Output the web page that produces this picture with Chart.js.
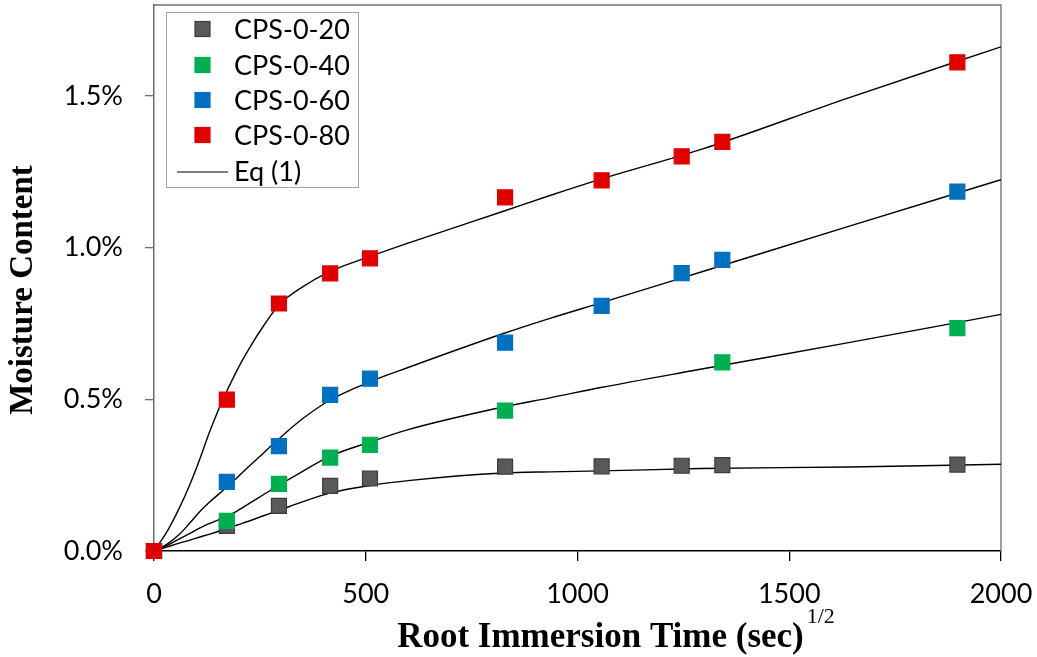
<!DOCTYPE html>
<html>
<head>
<meta charset="utf-8">
<script src="https://cdn.jsdelivr.net/npm/chart.js@4.4.0/dist/chart.umd.min.js"></script>
<style>body{margin:0;background:#fff}</style>
</head>
<body>
<canvas id="c" width="1037" height="657"></canvas>
<script>
// measured points (x = root time, y = moisture %)
const measuredX = [0, 172, 295, 416, 510, 829, 1057, 1246, 1342, 1897];
const cps20 = [0, 0.083, 0.149, 0.215, 0.239, 0.278, 0.279, 0.281, 0.283, 0.285];
const cps40 = [0, 0.099, 0.221, 0.308, 0.350, 0.463, null, null, 0.622, 0.735];
const cps60 = [0, 0.228, 0.346, 0.515, 0.568, 0.687, 0.808, 0.916, 0.960, 1.185];
const cps80 = [0, 0.499, 0.816, 0.915, 0.965, 1.166, 1.222, 1.301, 1.349, 1.611];

// Eq (1) curves
const curveX = [0, 30, 60, 85, 110, 130, 155, 195, 225, 260, 295, 350, 415, 510, 600, 825, 935, 1055, 1290, 1640, 2000];
const fit20 = [0, 0.013, 0.026, 0.036, 0.047, 0.055, 0.066, 0.085, 0.099, 0.117, 0.134, 0.162, 0.191, 0.216, 0.232, 0.257, 0.261, 0.264, 0.272, 0.277, 0.286];
const fit40 = [0, 0.018, 0.040, 0.058, 0.077, 0.090, 0.104, 0.131, 0.157, 0.187, 0.217, 0.262, 0.312, 0.359, 0.400, 0.475, 0.505, 0.539, 0.599, 0.687, 0.780];
const fit60 = [0, 0.022, 0.055, 0.093, 0.133, 0.160, 0.190, 0.240, 0.280, 0.325, 0.370, 0.435, 0.497, 0.558, 0.605, 0.717, 0.767, 0.818, 0.919, 1.070, 1.224];
const fit80 = [0, 0.062, 0.142, 0.220, 0.310, 0.388, 0.475, 0.593, 0.668, 0.745, 0.811, 0.870, 0.921, 0.971, 1.015, 1.120, 1.172, 1.226, 1.323, 1.494, 1.662];

const names = ['CPS-0-20', 'CPS-0-40', 'CPS-0-60', 'CPS-0-80'];
const fills = ['#595959', '#00b050', '#0070c0', '#e00000'];
const edges = ['#3c3c3c', '#00b050', '#0070c0', '#e00000'];
const xTicks = [0, 500, 1000, 1500, 2000];
const yTicks = [0, 0.5, 1.0, 1.5];

const pts = (xs, ys) => xs.map((x, i) => ({x: x, y: ys[i]})).filter(p => p.y !== null);

const measured = [cps20, cps40, cps60, cps80];
const fits = [fit20, fit40, fit60, fit80];
const datasets = [];
measured.forEach((ys, i) => {
  datasets.push({
    label: names[i], data: pts(measuredX, ys), showLine: false,
    pointStyle: 'rect', pointRadius: 10.6, pointHoverRadius: 10.6,
    backgroundColor: fills[i], borderColor: edges[i], borderWidth: 1.2,
    order: 3 - i, clip: false
  });
});
fits.forEach((ys, i) => {
  datasets.push({
    label: 'Eq (1)', data: pts(curveX, ys), showLine: true,
    pointRadius: 0, borderColor: '#000', borderWidth: 1.4,
    cubicInterpolationMode: 'monotone', order: 10
  });
});

const sans = 'Lato, "Open Sans", sans-serif';
const serif = '"Liberation Serif", "DejaVu Serif", serif';

const decor = {
  id: 'decor',
  beforeDatasetsDraw(chart) {
    const a = chart.chartArea, ctx = chart.ctx;
    ctx.save();
    ctx.strokeStyle = '#6e6e6e';
    ctx.lineWidth = 1.3;
    ctx.beginPath();
    ctx.moveTo(a.left, a.top); ctx.lineTo(a.right, a.top); ctx.lineTo(a.right, a.bottom);
    ctx.stroke();
    ctx.restore();
  },
  afterDraw(chart) {
    const ctx = chart.ctx;
    ctx.save();
    // legend box
    ctx.fillStyle = '#fff';
    ctx.fillRect(166.5, 12.5, 192, 175);
    ctx.strokeStyle = '#a6a6a6';
    ctx.lineWidth = 1;
    ctx.strokeRect(166.5, 12.5, 192, 175);
    const rows = [29, 65, 100, 135];
    ctx.font = '27px ' + sans;
    ctx.textBaseline = 'middle';
    rows.forEach((y, i) => {
      ctx.fillStyle = fills[i];
      ctx.fillRect(195, y - 7.5, 15, 15);
      ctx.strokeStyle = edges[i];
      ctx.lineWidth = 1.2;
      ctx.strokeRect(195, y - 7.5, 15, 15);
      ctx.fillStyle = '#000';
      ctx.fillText(names[i], 234, y + 1);
    });
    ctx.strokeStyle = '#000';
    ctx.lineWidth = 1.2;
    ctx.beginPath(); ctx.moveTo(177, 172); ctx.lineTo(228, 172); ctx.stroke();
    ctx.fillStyle = '#000';
    ctx.fillText('Eq (1)', 234, 172);

    // y title
    ctx.font = 'bold 33px ' + serif;
    ctx.textAlign = 'center';
    ctx.textBaseline = 'middle';
    ctx.translate(23, 290);
    ctx.rotate(-Math.PI / 2);
    ctx.fillText('Moisture Content', 0, 0);
    ctx.setTransform(1, 0, 0, 1, 0, 0);

    // x title with superscript
    const main = 'Root Immersion Time (sec)', sup = '1/2';
    ctx.textAlign = 'left';
    ctx.textBaseline = 'alphabetic';
    ctx.font = 'bold 35px ' + serif;
    const w1 = ctx.measureText(main).width;
    ctx.font = '22px ' + serif;
    const w2 = ctx.measureText(sup).width;
    const x0 = 616 - (w1 + 3 + w2) / 2;
    ctx.font = 'bold 35px ' + serif;
    ctx.fillText(main, x0, 647);
    ctx.font = '22px ' + serif;
    ctx.fillText(sup, x0 + w1 + 3, 623);
    ctx.restore();
  }
};

new Chart(document.getElementById('c'), {
  type: 'scatter',
  data: {datasets: datasets},
  options: {
    responsive: false,
    animation: false,
    events: [],
    layout: {autoPadding: false, padding: {left: 0, top: 5, right: 36, bottom: 0}},
    plugins: {legend: {display: false}, tooltip: {enabled: false}},
    scales: {
      x: {
        type: 'linear', min: 0, max: 2000,
        afterFit: s => { s.height = 106; s.paddingLeft = 0; s.paddingRight = 0; },
        afterBuildTicks: s => { s.ticks = xTicks.map(v => ({value: v})); },
        grid: {drawOnChartArea: false, drawTicks: true, tickLength: 10, color: '#000', lineWidth: 1.3},
        border: {color: '#000', width: 1.5},
        ticks: {font: {family: sans, size: 27}, color: '#000', padding: 17, maxRotation: 0,
          callback: v => String(v)}
      },
      y: {
        min: 0, max: 1.8,
        afterFit: s => { s.width = 154; s.paddingTop = 0; s.paddingBottom = 0; },
        afterBuildTicks: s => { s.ticks = yTicks.map(v => ({value: v})); },
        grid: {drawOnChartArea: false, drawTicks: true, tickLength: 9, color: '#6e6e6e', lineWidth: 1.3},
        border: {color: '#6e6e6e', width: 1.5},
        ticks: {font: {family: sans, size: 27}, color: '#000', padding: 22,
          callback: v => v.toFixed(1) + '%'}
      }
    }
  },
  plugins: [decor]
});
</script>
</body>
</html>
